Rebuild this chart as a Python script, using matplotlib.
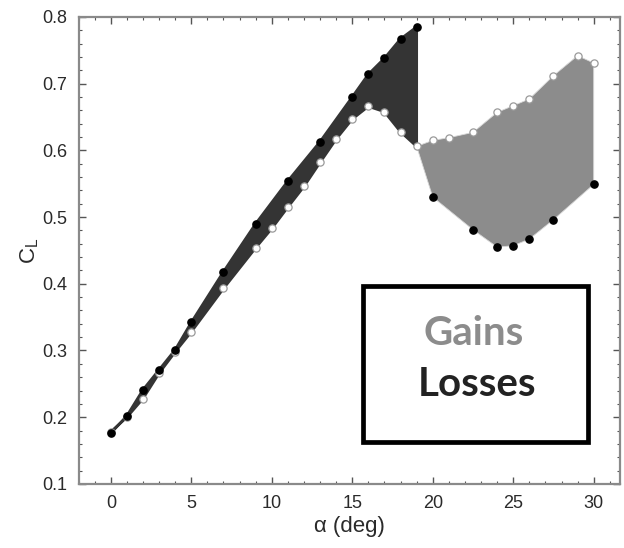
import matplotlib
matplotlib.use("Agg")
import matplotlib.pyplot as plt
from matplotlib.patches import Rectangle
from matplotlib.ticker import MultipleLocator

plt.rcParams['font.family'] = ['Liberation Sans', 'DejaVu Sans']

# filled markers (baseline)
alpha_base = [0, 1, 2, 3, 4, 5, 7, 9, 11, 13, 15, 16, 17, 18, 19,
              20, 22.5, 24, 25, 26, 27.5, 30]
cl_base = [0.176, 0.202, 0.241, 0.271, 0.301, 0.342, 0.418, 0.490, 0.554, 0.613,
           0.680, 0.714, 0.738, 0.767, 0.785,
           0.530, 0.481, 0.455, 0.457, 0.467, 0.496, 0.549]

# open markers (modified)
alpha_mod = [0, 1, 2, 3, 4, 5, 7, 9, 10, 11, 12, 13, 14, 15, 16, 17, 18, 19,
             20, 21, 22.5, 24, 25, 26, 27.5, 29, 30]
cl_mod = [0.178, 0.200, 0.228, 0.266, 0.298, 0.328, 0.393, 0.454, 0.483, 0.515,
          0.546, 0.582, 0.617, 0.647, 0.666, 0.658, 0.628, 0.606,
          0.615, 0.619, 0.627, 0.657, 0.667, 0.677, 0.712, 0.742, 0.731]

split = 19  # stall angle: losses before, gains after

fig = plt.figure(figsize=(6.24, 5.48), dpi=100)
ax = fig.add_axes([0.126, 0.117, 0.868, 0.852])

# losses polygon: baseline up to split, back along modified curve
lx = [a for a in alpha_base if a <= split] + [a for a in alpha_mod if a <= split][::-1]
ly = [c for a, c in zip(alpha_base, cl_base) if a <= split] + \
     [c for a, c in zip(alpha_mod, cl_mod) if a <= split][::-1]
ax.fill(lx, ly, color='#343434', ec='#343434', lw=2.0, joinstyle='round', zorder=1)

# gains polygon: modified from split on, back along baseline after split
gx = [a for a in alpha_mod if a >= split] + [a for a in alpha_base if a > split][::-1]
gy = [c for a, c in zip(alpha_mod, cl_mod) if a >= split] + \
     [c for a, c in zip(alpha_base, cl_base) if a > split][::-1]
ax.fill(gx, gy, color='#8c8c8c', edgecolor='#d8d8d8', lw=0.6, zorder=1)

ax.plot(alpha_mod, cl_mod, 'o', ms=5.2, mfc='white', mec='#9a9a9a', mew=0.9, zorder=3)
ax.plot(alpha_base, cl_base, 'o', ms=5.2, mfc='black', mec='black', zorder=4)

ax.set_xlim(-2, 31.65)
ax.set_ylim(0.1, 0.8)
ax.xaxis.set_major_locator(MultipleLocator(5))
ax.xaxis.set_minor_locator(MultipleLocator(1))
ax.yaxis.set_major_locator(MultipleLocator(0.1))
ax.yaxis.set_minor_locator(MultipleLocator(0.02))
ax.yaxis.set_major_formatter(matplotlib.ticker.FormatStrFormatter('%.1f'))
ax.tick_params(which='both', direction='in', top=True, right=True,
               color='#555555', labelsize=13, labelcolor='#2a2a2a', pad=8)
ax.tick_params(which='major', length=5, width=1)
ax.tick_params(which='minor', length=2.5, width=0.8)
for s in ax.spines.values():
    s.set_color('#8a8a8a')
    s.set_linewidth(1.6)

ax.set_xlabel('α (deg)', fontsize=16, color='#2a2a2a', labelpad=3)
ax.set_ylabel(r'$\mathregular{C_L}$', fontsize=16, color='#2a2a2a', labelpad=1)

ax.add_patch(Rectangle((0.525, 0.09), 0.416, 0.334, transform=ax.transAxes,
                       fill=False, ec='black', lw=3.4, zorder=5))
ax.text(0.729, 0.323, 'Gains', transform=ax.transAxes, ha='center', va='center',
        fontsize=29, fontweight='bold', family='Lato', color='#8c8c8c', zorder=6)
ax.text(0.735, 0.212, 'Losses', transform=ax.transAxes, ha='center', va='center',
        fontsize=29, fontweight='bold', family='Lato', color='#222222', zorder=6)

fig.savefig('out.png', dpi=100)
